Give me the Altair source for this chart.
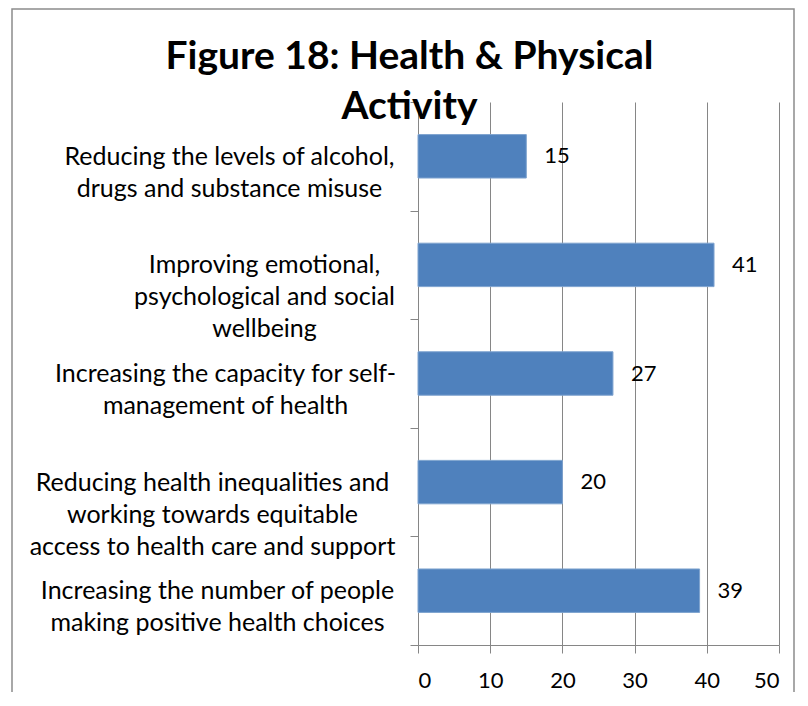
import altair as alt
import pandas as pd

label_lines = [
    ["Reducing the levels of alcohol,", "drugs and substance misuse"],
    ["Improving emotional,", "psychological and social", "wellbeing"],
    ["Increasing the capacity for self-", "management of health"],
    ["Reducing health inequalities and", "working towards equitable", "access to health care and support"],
    ["Increasing the number of people", "making positive health choices"],
]
values = [15, 41, 27, 20, 39]
x_ticks = [0, 10, 20, 30, 40, 50]
title_lines = ["Figure 18: Health & Physical", "Activity"]

categories = ["|".join(l) for l in label_lines]
df = pd.DataFrame({"category": categories, "value": values})

FONT = "Lato"
GRID = "#868686"

# Category label blocks: lines centred within a block whose right edge sits
# a fixed distance from the ticks (Excel-style wrapped labels).
label_pad = [181, 146, 185, 198, 193]
label_padding = {
    "condition": [
        {"test": f"datum.value === '{c}'", "value": p}
        for c, p in zip(categories, label_pad)
    ],
    "value": 185,
}

y_enc = alt.Y(
    "category:N",
    sort=categories,
    scale=alt.Scale(paddingInner=0, paddingOuter=0),
    axis=alt.Axis(
        title=None,
        labelExpr="split(datum.label, '|')",
        labelFont=FONT,
        labelFontSize=25,
        labelColor="#000000",
        labelLineHeight=32,
        labelAlign="center",
        labelBaseline="middle",
        labelPadding=label_padding,
        labelLimit=0,
        tickBand="extent",
        tickSize=8,
        tickColor=GRID,
        domainColor=GRID,
        grid=False,
    ),
)

x_enc = alt.X(
    "value:Q",
    scale=alt.Scale(domain=[0, 50], nice=False),
    axis=alt.Axis(
        title=None,
        values=x_ticks,
        labelFont=FONT,
        labelFontSize=22,
        labelColor="#000000",
        labelBaseline="alphabetic",
        labelPadding=34,
        tickSize=8,
        tickColor=GRID,
        domainColor=GRID,
        grid=True,
        gridColor=GRID,
        gridWidth=1,
    ),
)

bars = alt.Chart(df).mark_bar(
    color="#4F81BD", stroke="#7EA3CF", strokeWidth=1, height=alt.RelativeBandSize(0.4)
).encode(x=x_enc, y=y_enc)

labels = alt.Chart(df).mark_text(
    align="left", baseline="middle", dx=18, font=FONT, fontSize=22, color="#000000"
).encode(x="value:Q", y=alt.Y("category:N", sort=categories), text="value:Q")

frame = alt.Chart(pd.DataFrame({"a": [0]})).mark_rect(
    fillOpacity=0, stroke="#8C8C8C", strokeWidth=1.5
).encode(
    x=alt.value(-406), x2=alt.value(376), y=alt.value(-93), y2=alt.value(720)
)

chart = alt.layer(bars, labels, frame).properties(
    width=361,
    height=543,
    title=alt.Title(
        title_lines,
        font=FONT,
        fontSize=39,
        fontWeight="bold",
        color="#000000",
        anchor="middle",
        frame="group",
        dx=-189,
        dy=119,
        lineHeight=50,
        offset=0,
    ),
    padding={"left": 410, "top": 94, "right": 16, "bottom": 47},
    autosize=alt.AutoSizeParams(type="none"),
).configure_view(stroke=None)

chart.save("out.html", embed_options={"renderer": "svg", "actions": False})
